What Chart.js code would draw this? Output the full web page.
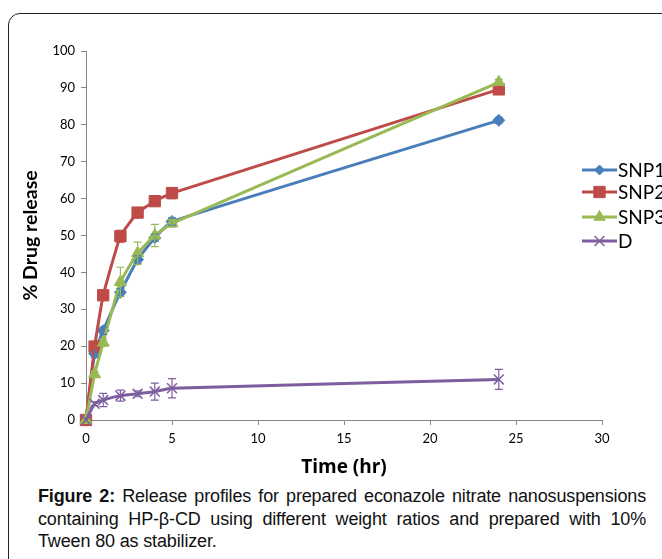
<!DOCTYPE html>
<html>
<head>
<meta charset="utf-8">
<script src="https://cdn.jsdelivr.net/npm/chart.js@4/dist/chart.umd.min.js"></script>
<style>
  html, body { margin: 0; padding: 0; background: #fff; overflow: hidden; width: 662px; height: 559px; }
  #frame { position: absolute; left: 8px; top: 13px; width: 720px; height: 620px;
           border: 1.5px solid #222; border-radius: 12px; }
  #chart { position: absolute; left: 0; top: 0; }
  #caption { position: absolute; left: 38px; top: 485px; width: 608px;
             font-family: "Liberation Sans", Arial, sans-serif;
             font-size: 18px; letter-spacing: -0.15px; line-height: 22.5px; text-align: justify; color: #111; }
</style>
</head>
<body>
<div id="frame"></div>
<canvas id="chart" width="720" height="480"></canvas>
<div id="caption"><b>Figure 2:</b> Release profiles for prepared econazole nitrate nanosuspensions containing HP-β-CD using different weight ratios and prepared with 10% Tween 80 as stabilizer.</div>
<script>
// time points (hr)
const times = [0, 0.5, 1, 2, 3, 4, 5, 24];

// % drug release
const snp1 = [0, 18, 24.2, 34.6, 43.5, 49.4, 53.8, 81.2];
const snp2 = [0, 19.9, 33.8, 49.8, 56.2, 59.3, 61.5, 89.6];
const snp3 = [0, 12.4, 21, 37.4, 45.2, 50, 53.3, 91.5];
const drug = [0, 4.4, 5.4, 6.6, 7.1, 7.7, 8.6, 11];

// error bar half-widths
const snp1Err = [0, 1, 1, 1, 1, 1, 1, 0.8];
const snp2Err = [0, 0.8, 0.8, 1.6, 0.8, 0.8, 1.5, 0.8];
const snp3Err = [0, 0.8, 1, 4, 3, 3, 1, 0.8];
const drugErr = [0, 0.5, 1.8, 1.5, 0.8, 2.3, 2.6, 2.7];

const seriesNames = ['SNP1', 'SNP2', 'SNP3', 'D'];
const xTicks = { min: 0, max: 30, step: 5 };
const yTicks = { min: 0, max: 100, step: 10 };

function pts(ys) {
    return times.map((t, i) => ({ x: t, y: ys[i] }));
}

const errorBars = {
    id: 'errorBars',
    afterDatasetsDraw(chart) {
        const ctx = chart.ctx;
        const xs = chart.scales.x, ys = chart.scales.y;
        chart.data.datasets.forEach(ds => {
            if (!ds.errors) return;
            ctx.save();
            ctx.strokeStyle = ds.borderColor;
            ctx.lineWidth = 1.2;
            ds.data.forEach((p, i) => {
                const e = ds.errors[i];
                if (!e) return;
                const px = xs.getPixelForValue(p.x);
                const top = ys.getPixelForValue(p.y + e);
                const bot = ys.getPixelForValue(p.y - e);
                ctx.beginPath();
                ctx.moveTo(px, top); ctx.lineTo(px, bot);
                ctx.moveTo(px - 4, top); ctx.lineTo(px + 4, top);
                ctx.moveTo(px - 4, bot); ctx.lineTo(px + 4, bot);
                ctx.stroke();
            });
            ctx.restore();
        });
    }
};

// legend drawn as Excel does: short line with marker in the middle
const lineLegend = {
    id: 'lineLegend',
    afterDraw(chart) {
        const ctx = chart.ctx;
        const x0 = chart.chartArea.right - 20;
        const rowY = [170, 192, 217, 241];
        chart.data.datasets.forEach((ds, i) => {
            const y = rowY[i];
            ctx.save();
            ctx.strokeStyle = ds.borderColor;
            ctx.fillStyle = ds.pointBackgroundColor;
            ctx.lineWidth = 3;
            ctx.beginPath();
            ctx.moveTo(x0, y); ctx.lineTo(x0 + 35, y);
            ctx.stroke();
            ctx.lineWidth = ds.pointBorderWidth;
            Chart.helpers.drawPoint(ctx, {
                pointStyle: ds.pointStyle, rotation: 0,
                radius: ds.legendRadius, borderWidth: ds.pointBorderWidth
            }, x0 + 17.5, y);
            ctx.restore();
            ctx.save();
            ctx.fillStyle = '#000';
            ctx.font = '19px Lato, "Liberation Sans", sans-serif';
            ctx.textBaseline = 'middle';
            ctx.fillText(ds.label, x0 + 36, y + 1);
            ctx.restore();
        });
    }
};

function series(name, ys, errs, color, style, radius, legendRadius, order) {
    return {
        label: name,
        data: pts(ys),
        errors: errs,
        legendRadius: legendRadius,
        order: order,
        borderColor: color,
        backgroundColor: color,
        pointBackgroundColor: color,
        pointBorderColor: color,
        pointStyle: style,
        pointRadius: radius,
        pointBorderWidth: style === 'crossRot' ? 1.5 : 1,
        borderWidth: 3,
        tension: 0.12,
        clip: false
    };
}

const axisFont = { family: 'Lato, "Liberation Sans", sans-serif', size: 13 };
const xTitleFont = { family: '"Open Sans", "Liberation Sans", sans-serif', size: 19, weight: 'bold' };
const yTitleFont = { family: 'Lato, "Liberation Sans", sans-serif', size: 19.5, weight: 'bold' };

new Chart(document.getElementById('chart').getContext('2d'), {
    type: 'line',
    data: {
        datasets: [
            series(seriesNames[0], snp1, snp1Err, '#4A7EBB', 'rectRot', 6, 5, 4),
            series(seriesNames[1], snp2, snp2Err, '#BE4B48', 'rect', 8, 8, 3),
            series(seriesNames[2], snp3, snp3Err, '#98B954', 'triangle', 7, 6.5, 2),
            series(seriesNames[3], drug, drugErr, '#7D5FA0', 'crossRot', 7, 7, 1)
        ]
    },
    options: {
        responsive: false,
        animation: false,
        devicePixelRatio: 1,
        layout: { padding: { left: 0, right: 118, top: 51, bottom: 0 } },
        plugins: { legend: { display: false }, tooltip: { enabled: false } },
        scales: {
            x: {
                type: 'linear',
                min: xTicks.min, max: xTicks.max,
                ticks: { stepSize: xTicks.step, color: '#000', font: axisFont, padding: 6, maxRotation: 0 },
                grid: { drawOnChartArea: false, drawTicks: true, tickLength: 5, color: '#888' },
                border: { color: '#888', width: 1 },
                title: { display: true, text: 'Time (hr)', color: '#000', font: xTitleFont, padding: { top: 1, bottom: 1 } },
                afterFit(scale) { scale.height = 60; }
            },
            y: {
                min: yTicks.min, max: yTicks.max,
                ticks: { stepSize: yTicks.step, color: '#000', font: axisFont, padding: 6 },
                grid: { drawOnChartArea: false, drawTicks: true, tickLength: 5, color: '#888' },
                border: { color: '#888', width: 1 },
                title: { display: true, text: '% Drug release', color: '#000', font: yTitleFont, padding: { top: 19, bottom: 19 } },
                afterFit(scale) { scale.width = 86; }
            }
        }
    },
    plugins: [errorBars, lineLegend]
});
</script>
</body>
</html>
